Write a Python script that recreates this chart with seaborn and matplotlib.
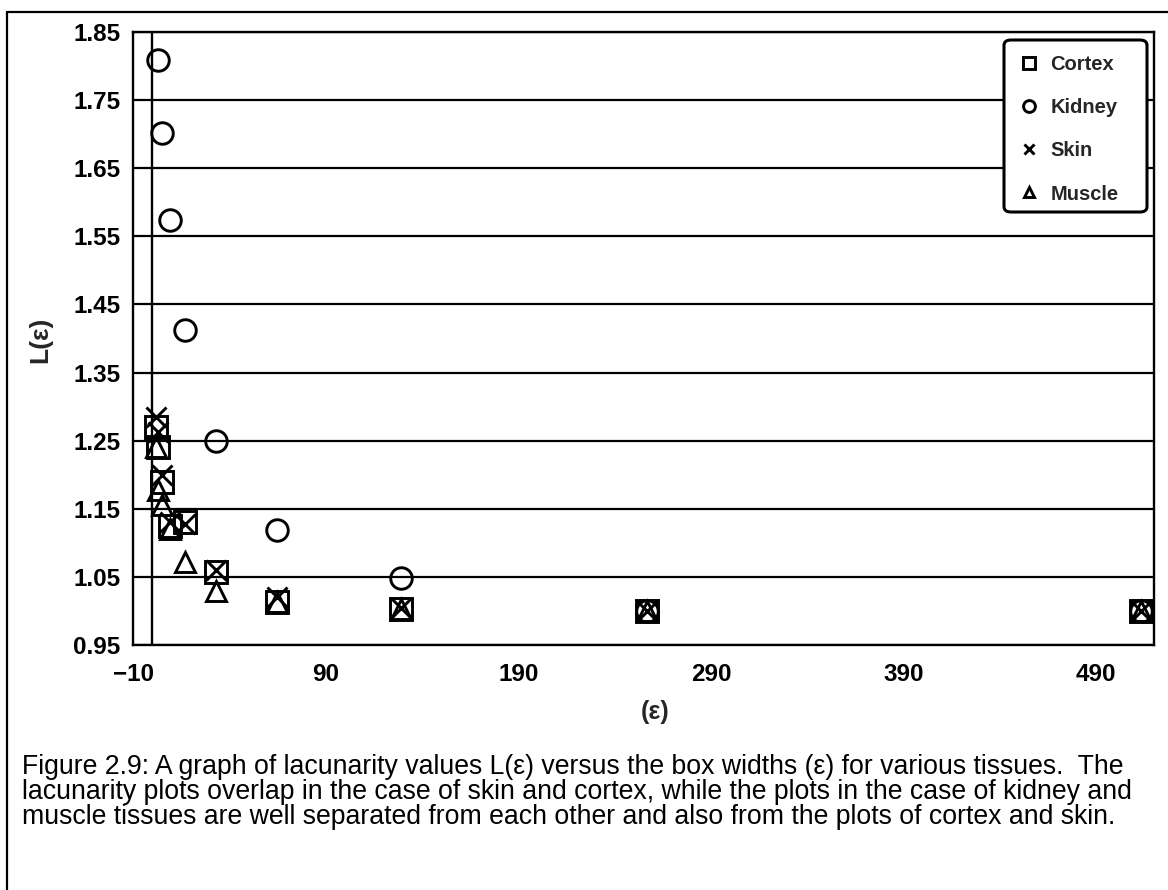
import matplotlib
matplotlib.use("Agg")
import matplotlib.pyplot as plt
import seaborn as sns
import pandas as pd
from matplotlib.lines import Line2D
from matplotlib.patches import FancyBboxPatch

# ---------------- data ----------------
eps = [2, 3, 5, 9, 17, 33, 65, 129, 257, 513]
eps_kidney = [3, 5, 9, 17, 33, 65, 129, 257, 513]
cortex = [1.27, 1.24, 1.19, 1.125, 1.13, 1.057, 1.013, 1.003, 1.0, 1.0]
kidney = [1.809, 1.702, 1.574, 1.412, 1.249, 1.119, 1.048, 1.0, 1.0]
skin = [1.285, 1.262, 1.20, 1.13, 1.128, 1.06, 1.02, 1.005, 1.0, 1.0]
muscle = [1.24, 1.178, 1.155, 1.12, 1.072, 1.029, 1.013, 1.003, 1.0, 1.0]

series_names = ["Cortex", "Kidney", "Skin", "Muscle"]
x_ticks = [-10, 90, 190, 290, 390, 490]
y_ticks = [0.95, 1.05, 1.15, 1.25, 1.35, 1.45, 1.55, 1.65, 1.75, 1.85]
x_label = "(\u03b5)"
y_label = "L(\u03b5)"
caption_lines = [
    "Figure 2.9: A graph of lacunarity values L(\u03b5) versus the box widths (\u03b5) for various tissues.  The",
    "lacunarity plots overlap in the case of skin and cortex, while the plots in the case of kidney and",
    "muscle tissues are well separated from each other and also from the plots of cortex and skin.",
]

# ---------------- style ----------------
sns.set_style("white")
plt.rcParams["font.family"] = ["Liberation Sans", "DejaVu Sans"]

W, H = 1168, 890
fig = plt.figure(figsize=(W / 100, H / 100), dpi=100)

def fx(px):
    return px / W

def fy(py):
    return 1 - py / H

ax_l, ax_r, ax_t, ax_b = 133, 1154, 32, 645
ax = fig.add_axes([fx(ax_l), fy(ax_b), (ax_r - ax_l) / W, (ax_b - ax_t) / H])

frames = {
    "Cortex": pd.DataFrame({"eps": eps, "L": cortex}),
    "Kidney": pd.DataFrame({"eps": eps_kidney, "L": kidney}),
    "Skin": pd.DataFrame({"eps": eps, "L": skin}),
    "Muscle": pd.DataFrame({"eps": eps, "L": muscle}),
}
markers = {"Cortex": "s", "Kidney": "o", "Skin": "x", "Muscle": "^"}
msizes = {"Cortex": 16, "Kidney": 15.5, "Skin": 14, "Muscle": 14}

for name in series_names:
    d = frames[name]
    sns.lineplot(
        data=d, x="eps", y="L", ax=ax, sort=False, estimator=None,
        linestyle="", marker=markers[name], markersize=msizes[name],
        markerfacecolor="none", markeredgecolor="black",
        markeredgewidth=2.1, color="black", label=name, zorder=4,
    )

ax.set_xlim(-10, 520)
ax.set_ylim(0.95, 1.85)
ax.set_xticks(x_ticks)
ax.set_yticks(y_ticks)
ax.set_yticklabels([f"{v:.2f}" for v in y_ticks])
ax.grid(False)
ax.yaxis.grid(True, color="black", linewidth=1.6)
ax.set_axisbelow(True)
ax.axvline(0, color="black", linewidth=1.7, zorder=2)

for s in ax.spines.values():
    s.set_visible(True)
    s.set_color("black")
    s.set_linewidth(1.7)

ax.tick_params(axis="both", direction="in", length=5, width=1.5, colors="black",
               labelsize=17.5)
ax.tick_params(axis="x", pad=13)
ax.tick_params(axis="y", pad=9)
for lab in ax.get_xticklabels() + ax.get_yticklabels():
    lab.set_fontweight("bold")

ax.set_xlabel("")
ax.set_ylabel("")
fig.text(fx(40), fy(340), y_label, rotation=90, ha="center", va="center",
         fontsize=19, fontweight="bold")
fig.text(fx(655), fy(712), x_label, ha="center", va="center",
         fontsize=18, fontweight="bold")

# legend (content) + hand-placed frame
leg = ax.legend(loc="upper left", bbox_to_anchor=(fx(1019), fy(55)),
                bbox_transform=fig.transFigure, frameon=False,
                prop={"weight": "bold", "size": 14.5}, markerscale=0.55,
                labelspacing=1.2, borderpad=0.0, borderaxespad=0.0,
                handlelength=1.0, handletextpad=0.55)
frame = FancyBboxPatch((fx(1004), fy(212)), fx(1147) - fx(1004), fy(40) - fy(212),
                       boxstyle="round,pad=0,rounding_size=0.006",
                       transform=fig.transFigure, facecolor="white",
                       edgecolor="black", linewidth=2.2, zorder=5)
fig.add_artist(frame)
leg.set_zorder(6)
fig.add_artist(leg)

# caption
for i, line in enumerate(caption_lines):
    fig.text(fx(22), fy(767 + 25 * i), line, ha="left", va="center",
             fontsize=19.2, color="black")

# outer border (left and top)
fig.add_artist(Line2D([fx(7), fx(7)], [fy(12), fy(890)], color="black",
                      linewidth=1.6, transform=fig.transFigure))
fig.add_artist(Line2D([fx(7), fx(1168)], [fy(12), fy(12)], color="black",
                      linewidth=1.6, transform=fig.transFigure))

fig.savefig("out.png", dpi=100)
